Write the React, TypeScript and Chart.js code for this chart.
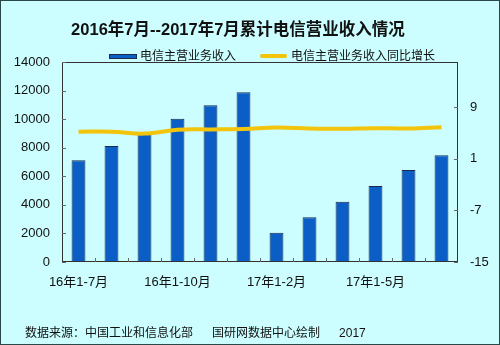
import React, { useEffect, useRef } from "react";
import { Chart, registerables } from "chart.js";

Chart.register(...registerables);

const categories = [
  "16年1-7月", "16年1-8月", "16年1-9月", "16年1-10月", "16年1-11月", "16年1-12月",
  "17年1-2月", "17年1-3月", "17年1-4月", "17年1-5月", "17年1-6月", "17年1-7月",
];
const shownLabels = ["16年1-7月", "16年1-10月", "17年1-2月", "17年1-5月"];
const revenue = [7120, 8120, 9100, 10030, 10970, 11880, 2050, 3130, 4220, 5320, 6440, 7470];
const growth = [5.2, 5.2, 4.9, 5.5, 5.55, 5.6, 5.85, 5.7, 5.65, 5.75, 5.7, 5.9];
const rightTicks = [-15, -7, 1, 9];

const FONT = "'Liberation Sans', Arial, 'Noto Sans CJK SC', sans-serif";

const framePlugin = {
  id: "frame",
  afterDraw(chart: any) {
    const { ctx, chartArea } = chart;
    const { left, right, top, bottom } = chartArea;
    ctx.save();
    ctx.strokeStyle = "#333";
    ctx.lineWidth = 1;
    ctx.strokeRect(left + 0.5, top + 0.5, right - left - 1, bottom - top - 1);
    ctx.strokeStyle = "#666";
    const n = categories.length;
    ctx.beginPath();
    for (let i = 1; i < n; i++) {
      const px = Math.round(left + ((right - left) * i) / n) + 0.5;
      ctx.moveTo(px, bottom);
      ctx.lineTo(px, bottom - 4);
    }
    const yl = chart.scales.y;
    yl.ticks.forEach((t: any) => {
      const py = Math.round(yl.getPixelForValue(t.value)) + 0.5;
      ctx.moveTo(left, py);
      ctx.lineTo(left + 4, py);
    });
    const yr = chart.scales.y1;
    yr.ticks.forEach((t: any) => {
      const py = Math.round(yr.getPixelForValue(t.value)) + 0.5;
      ctx.moveTo(right - 4, py);
      ctx.lineTo(right, py);
    });
    ctx.stroke();
    ctx.restore();
  },
};

export default function App() {
  const ref = useRef<HTMLCanvasElement | null>(null);

  useEffect(() => {
    if (!ref.current) return;
    Chart.defaults.font.family = FONT;
    const chart = new Chart(ref.current, {
      type: "bar",
      data: {
        labels: categories,
        datasets: [
          {
            type: "line",
            label: "电信主营业务收入同比增长",
            data: growth,
            yAxisID: "y1",
            borderColor: "#f2c40c",
            borderWidth: 4,
            tension: 0.4,
            pointRadius: 0,
            fill: false,
            order: 0,
          } as any,
          {
            type: "bar",
            label: "电信主营业务收入",
            data: revenue,
            yAxisID: "y",
            backgroundColor: "#0a5ec6",
            borderColor: "#1a2c4c",
            borderWidth: 1,
            barPercentage: 0.42,
            categoryPercentage: 1,
            order: 1,
          },
        ],
      },
      options: {
        responsive: false,
        animation: false,
        layout: { padding: { top: 62, bottom: 53, left: 0, right: 0 } },
        plugins: {
          legend: { display: false },
          title: { display: false },
          tooltip: { enabled: false },
        },
        scales: {
          x: {
            grid: { display: false, drawTicks: false },
            border: { display: false },
            ticks: {
              autoSkip: false,
              maxRotation: 0,
              padding: 13,
              color: "#111",
              font: { size: 13, family: FONT },
              callback: (_v: any, i: number) =>
                shownLabels.includes(categories[i]) ? categories[i] : "",
            },
            afterFit: (s: any) => { s.height = 30; },
          },
          y: {
            position: "left",
            min: 0,
            max: 14000,
            grid: { display: false, drawTicks: false },
            border: { display: false },
            ticks: {
              stepSize: 2000,
              padding: 12,
              color: "#111",
              font: { size: 13, family: FONT },
              callback: (v: any) => String(v),
            },
            afterFit: (s: any) => { s.width = 62; },
          },
          y1: {
            position: "right",
            min: -15,
            max: 16,
            grid: { display: false, drawTicks: false },
            border: { display: false },
            ticks: {
              padding: 12,
              color: "#111",
              font: { size: 13, family: FONT },
              callback: (v: any) => String(v),
            },
            afterBuildTicks: (s: any) => { s.ticks = rightTicks.map((v) => ({ value: v })); },
            afterFit: (s: any) => { s.width = 42; },
          },
        },
      },
      plugins: [framePlugin],
    });
    return () => chart.destroy();
  }, []);

  const text: React.CSSProperties = { position: "absolute", whiteSpace: "nowrap", fontFamily: FONT, color: "#111" };

  return (
    <div
      style={{
        position: "fixed",
        left: 0,
        top: 0,
        width: 500,
        height: 345,
        boxSizing: "border-box",
        border: "1px solid #2a4848",
        background: "#ccfeff",
        overflow: "hidden",
      }}
    >
      <canvas ref={ref} width={500} height={345} style={{ position: "absolute", left: -1, top: -1 }} />
      <div style={{ ...text, left: 0, width: 474, top: 17, textAlign: "center", fontSize: 16.5, fontWeight: "bold", lineHeight: "22px" }}>
        2016年7月--2017年7月累计电信营业收入情况
      </div>
      <div style={{ position: "absolute", left: 108, top: 53, width: 28, height: 5, background: "#0a5ec6", border: "1px solid #1a2c4c", boxSizing: "border-box" }} />
      <div style={{ ...text, left: 139, top: 48, fontSize: 12, lineHeight: "15px" }}>电信主营业务收入</div>
      <div style={{ position: "absolute", left: 259, top: 53, width: 27, height: 4, background: "#f2c40c", borderRadius: 2 }} />
      <div style={{ ...text, left: 290, top: 48, fontSize: 12, lineHeight: "15px" }}>电信主营业务收入同比增长</div>
      <div style={{ ...text, left: 24, top: 324, fontSize: 12, lineHeight: "16px" }}>
        数据来源：中国工业和信息化部
        <span style={{ marginLeft: 19 }}>国研网数据中心绘制</span>
        <span style={{ marginLeft: 19 }}>2017</span>
      </div>
    </div>
  );
}
